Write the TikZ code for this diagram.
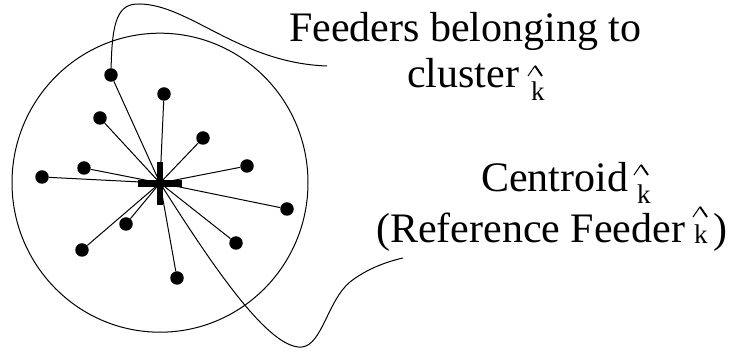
\documentclass[tikz,border=0pt]{standalone}
\usepackage{fontspec}
\setmainfont{Liberation Serif}
\begin{document}
\begin{tikzpicture}[x=1pt,y=-1pt,
  lbl/.style={font=\fontsize{42}{48}\selectfont, inner sep=0pt},
  klbl/.style={font=\fontsize{27}{30}\selectfont, inner sep=0pt},
  feeder/.style={circle, fill=black, inner sep=0pt, minimum size=13.5pt},
  spoke/.style={line width=1pt},
  leader/.style={line width=1pt},
  % circumflex drawn above a letter: thin left stroke, heavier right stroke
  hatmark/.pic={
    \draw[line width=1pt, line cap=butt] (-7,5) -- (0,-5.2);
    \draw[line width=1.9pt, line cap=butt] (0,-5.2) -- (7,5);
  }]
\useasboundingbox (0,0) rectangle (732,352);

% cluster boundary
\draw[line width=1pt] (160,182.7) ellipse [x radius=148, y radius=149.5];

% centroid
\coordinate (c) at (160,183);

% feeders of the cluster
\node[feeder] (f1)  at (111,75)  {};
\node[feeder] (f2)  at (164,94)  {};
\node[feeder] (f3)  at (100,118) {};
\node[feeder] (f4)  at (203,138) {};
\node[feeder] (f5)  at (247,166) {};
\node[feeder] (f6)  at (84,168)  {};
\node[feeder] (f7)  at (42,177)  {};
\node[feeder] (f8)  at (287,209) {};
\node[feeder] (f9)  at (126,224) {};
\node[feeder] (f10) at (236,243) {};
\node[feeder] (f11) at (82,250)  {};
\node[feeder] (f12) at (177,278) {};

\foreach \i in {1,...,12} \draw[spoke] (f\i) -- (c);

% centroid cross
\fill (157,162) rectangle (163,205);
\fill (138,180) rectangle (182,187);

% labels
\node[lbl, anchor=base west] (t1) at (289,42) {Feeders belonging to};
\node[lbl, anchor=base west] (t2) at (407,88) {cluster};
\node[klbl, anchor=base west] (k1) at (531,101) {k};
\pic at (535,71) {hatmark};

\node[lbl, anchor=base west] (t3) at (481,192) {Centroid};
\node[klbl, anchor=base west] (k2) at (637,204) {k};
\pic at (641,170) {hatmark};

\node[lbl, anchor=base west] (t4) at (376,243) {(Reference Feeder};
\node[klbl, anchor=base west] (k3) at (694,244) {k};
\pic at (700,212) {hatmark};
\node[lbl, anchor=base west] (t5) at (713,243) {)};

% leader lines
\coordinate (e1) at (327,66);
\coordinate (e2) at (403,258);
\draw[leader] (f1) .. controls (112,20) and (118,3) .. (140,4)
              .. controls (190,5) and (240,63) .. (e1);
\draw[leader] (c) .. controls (215,270) and (270,350) .. (302,347)
              .. controls (322,345) and (328,300) .. (350,282)
              .. controls (365,270) and (385,262) .. (e2);
\end{tikzpicture}
\end{document}
